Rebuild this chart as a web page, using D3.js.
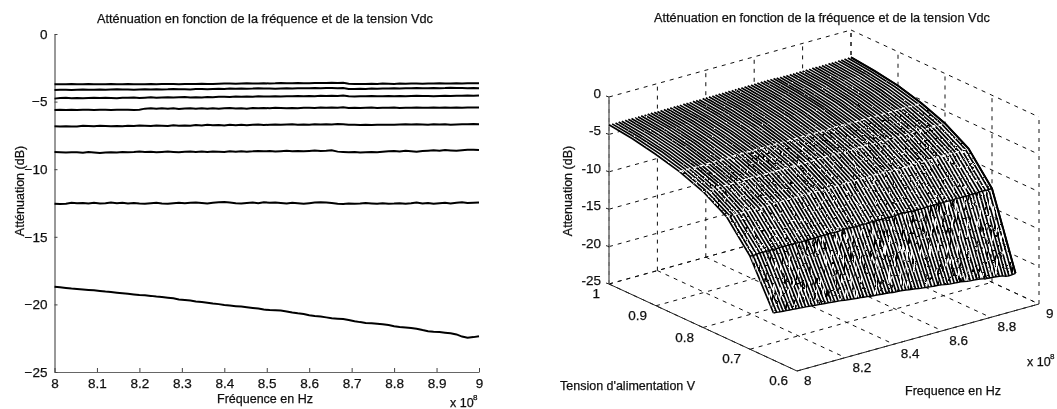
<!DOCTYPE html>
<html>
<head>
<meta charset="utf-8">
<script src="https://cdnjs.cloudflare.com/ajax/libs/d3/7.8.5/d3.min.js"></script>
<style>
body { margin: 0; background: #fff; }
svg { display: block; }
text { font-family: "Liberation Sans", Arial, sans-serif; font-size: 12.5px; fill: #111; stroke: #111; stroke-width: 0.25px; }
.title { font-size: 12.7px; }
.tick text { font-size: 13.5px; }
.tl { font-size: 13.5px; }
</style>
</head>
<body>
<div id="chart"></div>
<script>
// frequency samples, in units of 1e8 Hz
const freqs = [
  8.000,8.013,8.027,8.040,8.053,8.067,8.080,8.093,8.107,8.120,8.133,8.147,8.160,8.173,8.187,
  8.200,8.213,8.227,8.240,8.253,8.267,8.280,8.293,8.307,8.320,8.333,8.347,8.360,8.373,8.387,
  8.400,8.413,8.427,8.440,8.453,8.467,8.480,8.493,8.507,8.520,8.533,8.547,8.560,8.573,8.587,
  8.600,8.613,8.627,8.640,8.653,8.667,8.680,8.693,8.707,8.720,8.733,8.747,8.760,8.773,8.787,
  8.800,8.813,8.827,8.840,8.853,8.867,8.880,8.893,8.907,8.920,8.933,8.947,8.960,8.973,8.987,
  9.000];

// attenuation in dB for each supply voltage
const v100 = [
  -3.72,-3.71,-3.72,-3.70,-3.71,-3.72,-3.70,-3.71,-3.72,-3.71,-3.70,-3.72,-3.71,-3.70,-3.71,
  -3.72,-3.71,-3.70,-3.71,-3.70,-3.69,-3.70,-3.71,-3.70,-3.69,-3.70,-3.68,-3.69,-3.70,-3.68,
  -3.67,-3.66,-3.68,-3.66,-3.65,-3.67,-3.66,-3.64,-3.66,-3.65,-3.63,-3.65,-3.64,-3.63,-3.64,
  -3.65,-3.63,-3.62,-3.63,-3.61,-3.62,-3.61,-3.68,-3.70,-3.69,-3.70,-3.68,-3.69,-3.67,-3.68,
  -3.69,-3.67,-3.68,-3.66,-3.67,-3.68,-3.66,-3.67,-3.65,-3.67,-3.66,-3.65,-3.66,-3.65,-3.64,
  -3.65];
const v95 = [
  -4.14,-4.12,-4.13,-4.14,-4.12,-4.11,-4.13,-4.12,-4.10,-4.12,-4.11,-4.09,-4.11,-4.10,-4.12,
  -4.10,-4.09,-4.11,-4.08,-4.10,-4.09,-4.07,-4.09,-4.08,-4.10,-4.07,-4.06,-4.08,-4.06,-4.05,
  -4.07,-4.04,-4.05,-4.03,-4.05,-4.04,-4.02,-4.04,-4.03,-4.05,-4.03,-4.02,-4.04,-4.02,-4.01,
  -4.02,-4.00,-4.01,-3.99,-4.00,-4.01,-3.99,-4.06,-4.07,-4.05,-4.06,-4.04,-4.05,-4.03,-4.04,
  -4.02,-4.03,-4.01,-4.02,-4.00,-4.02,-4.01,-3.99,-4.01,-4.00,-3.98,-4.00,-3.99,-4.01,-4.00,
  -4.02];
const v90 = [
  -4.78,-4.74,-4.72,-4.75,-4.73,-4.76,-4.74,-4.72,-4.74,-4.71,-4.73,-4.75,-4.71,-4.72,-4.70,
  -4.73,-4.71,-4.68,-4.71,-4.69,-4.67,-4.70,-4.68,-4.66,-4.69,-4.67,-4.69,-4.66,-4.68,-4.65,
  -4.64,-4.66,-4.63,-4.65,-4.62,-4.64,-4.61,-4.63,-4.62,-4.60,-4.62,-4.60,-4.61,-4.59,-4.60,
  -4.58,-4.60,-4.57,-4.59,-4.56,-4.58,-4.55,-4.60,-4.62,-4.60,-4.61,-4.59,-4.61,-4.60,-4.58,
  -4.60,-4.59,-4.61,-4.59,-4.57,-4.59,-4.58,-4.60,-4.58,-4.57,-4.58,-4.56,-4.57,-4.55,-4.56,
  -4.54];
const v85 = [
  -5.62,-5.60,-5.63,-5.61,-5.62,-5.60,-5.61,-5.63,-5.61,-5.60,-5.62,-5.61,-5.60,-5.61,-5.62,
  -5.60,-5.52,-5.50,-5.53,-5.49,-5.52,-5.50,-5.54,-5.51,-5.49,-5.52,-5.50,-5.53,-5.50,-5.52,
  -5.50,-5.48,-5.51,-5.49,-5.52,-5.48,-5.50,-5.47,-5.49,-5.46,-5.48,-5.50,-5.47,-5.49,-5.46,
  -5.45,-5.47,-5.44,-5.46,-5.43,-5.45,-5.42,-5.47,-5.45,-5.48,-5.46,-5.44,-5.47,-5.45,-5.46,
  -5.44,-5.47,-5.45,-5.46,-5.44,-5.46,-5.45,-5.43,-5.46,-5.44,-5.45,-5.43,-5.45,-5.44,-5.43,
  -5.44];
const v80 = [
  -6.82,-6.84,-6.83,-6.85,-6.84,-6.78,-6.80,-6.82,-6.79,-6.81,-6.83,-6.80,-6.82,-6.78,-6.80,
  -6.77,-6.79,-6.81,-6.76,-6.78,-6.80,-6.75,-6.79,-6.76,-6.78,-6.74,-6.77,-6.72,-6.75,-6.73,
  -6.76,-6.72,-6.74,-6.71,-6.75,-6.72,-6.70,-6.73,-6.71,-6.69,-6.72,-6.70,-6.68,-6.71,-6.69,
  -6.72,-6.68,-6.70,-6.67,-6.69,-6.66,-6.68,-6.72,-6.72,-6.73,-6.72,-6.73,-6.72,-6.71,-6.72,
  -6.71,-6.69,-6.68,-6.70,-6.67,-6.69,-6.71,-6.68,-6.70,-6.68,-6.71,-6.69,-6.67,-6.68,-6.66,
  -6.67];
const v75 = [
  -8.72,-8.74,-8.76,-8.75,-8.74,-8.78,-8.73,-8.76,-8.80,-8.77,-8.74,-8.76,-8.72,-8.75,-8.73,
  -8.70,-8.73,-8.71,-8.74,-8.72,-8.70,-8.72,-8.74,-8.71,-8.69,-8.72,-8.70,-8.72,-8.69,-8.71,
  -8.72,-8.68,-8.70,-8.67,-8.70,-8.68,-8.65,-8.68,-8.66,-8.69,-8.67,-8.64,-8.67,-8.65,-8.68,
  -8.65,-8.62,-8.65,-8.63,-8.60,-8.70,-8.72,-8.75,-8.73,-8.76,-8.74,-8.72,-8.75,-8.71,-8.68,
  -8.65,-8.69,-8.64,-8.67,-8.70,-8.66,-8.63,-8.60,-8.63,-8.58,-8.61,-8.64,-8.60,-8.57,-8.56,
  -8.58];
const v70 = [
  -12.55,-12.58,-12.55,-12.48,-12.52,-12.50,-12.53,-12.49,-12.54,-12.51,-12.47,-12.52,-12.49,-12.53,-12.50,
  -12.54,-12.56,-12.52,-12.49,-12.53,-12.55,-12.51,-12.48,-12.52,-12.49,-12.46,-12.50,-12.53,-12.48,-12.45,
  -12.42,-12.46,-12.51,-12.54,-12.50,-12.47,-12.52,-12.44,-12.48,-12.46,-12.50,-12.54,-12.49,-12.52,-12.55,
  -12.51,-12.47,-12.44,-12.47,-12.50,-12.55,-12.57,-12.53,-12.56,-12.54,-12.50,-12.53,-12.56,-12.52,-12.55,
  -12.54,-12.51,-12.55,-12.52,-12.47,-12.53,-12.50,-12.55,-12.52,-12.49,-12.53,-12.48,-12.45,-12.50,-12.48,
  -12.47];
const v65 = [
  -18.70,-18.74,-18.79,-18.83,-18.86,-18.90,-18.93,-18.96,-19.01,-19.05,-19.08,-19.13,-19.17,-19.21,-19.26,
  -19.30,-19.33,-19.37,-19.42,-19.46,-19.50,-19.55,-19.63,-19.68,-19.72,-19.78,-19.83,-19.87,-19.93,-19.98,
  -20.05,-20.09,-20.13,-20.16,-20.21,-20.26,-20.31,-20.38,-20.42,-20.44,-20.46,-20.52,-20.60,-20.66,-20.71,
  -20.80,-20.86,-20.90,-20.96,-21.03,-21.06,-21.08,-21.15,-21.24,-21.31,-21.37,-21.40,-21.43,-21.47,-21.53,
  -21.62,-21.68,-21.71,-21.75,-21.80,-21.90,-21.98,-22.02,-22.05,-22.09,-22.14,-22.22,-22.38,-22.46,-22.42,
  -22.35];

const voltages = [1, 0.95, 0.9, 0.85, 0.8, 0.75, 0.7, 0.65];
const curves = [v100, v95, v90, v85, v80, v75, v70, v65];

const freqTicks2d = [8, 8.1, 8.2, 8.3, 8.4, 8.5, 8.6, 8.7, 8.8, 8.9, 9];
const dbTicks2d = [0, -5, -10, -15, -20, -25];
const freqTicks3d = [8, 8.2, 8.4, 8.6, 8.8, 9];
const voltTicks3d = [1, 0.9, 0.8, 0.7, 0.6];
const titleText = "Atténuation en fonction de la fréquence et de la tension Vdc";

const svg = d3.select("#chart").append("svg")
    .attr("width", 1057)
    .attr("height", 409);

const defs = svg.append("defs");
defs.append("filter").attr("id", "scan")
    .append("feGaussianBlur").attr("stdDeviation", 0.35);

// scanner grain: noise turned into hard spots of one colour
function grain(id, freq, seed, rgb, gain, offset) {
    const f = defs.append("filter").attr("id", id)
        .attr("x", 0).attr("y", 0).attr("width", 1).attr("height", 1);
    f.append("feTurbulence").attr("type", "fractalNoise")
        .attr("baseFrequency", freq).attr("numOctaves", 2).attr("seed", seed);
    f.append("feColorMatrix").attr("type", "matrix")
        .attr("values", `0 0 0 0 ${rgb}  0 0 0 0 ${rgb}  0 0 0 0 ${rgb}  ${gain} 0 0 0 ${offset}`);
}
grain("specks", "0.5", 4, 1, 14, -10);
grain("specksDense", "0.45", 9, 1, 14, -9.1);
grain("darkSpecks", "0.4", 15, 0, 14, -9.2);
grain("streaks", "0.45 0.07", 21, 1, 14, -8.9);
grain("darkStreaks", "0.5 0.08", 27, 0, 14, -9.1);

// wobble the mesh lines a little, as the scan does
const wobble = defs.append("filter").attr("id", "wobble")
    .attr("x", "-2%").attr("y", "-2%").attr("width", "104%").attr("height", "104%");
wobble.append("feTurbulence").attr("type", "fractalNoise")
    .attr("baseFrequency", "0.06 0.1").attr("numOctaves", 1).attr("seed", 3).attr("result", "n");
wobble.append("feDisplacementMap").attr("in", "SourceGraphic").attr("in2", "n")
    .attr("scale", 1.6).attr("xChannelSelector", "R").attr("yChannelSelector", "G");

const root = svg.append("g").attr("filter", "url(#scan)");

// 1: LEFT PLOT
const x2d = d3.scaleLinear().domain([8, 9]).range([54.5, 479]);
const y2d = d3.scaleLinear().domain([-25, 0]).range([372, 34]);

const left = root.append("g");

const axisX = left.append("g")
    .attr("transform", "translate(0,372)")
    .call(d3.axisBottom(x2d).tickValues(freqTicks2d).tickSizeInner(-4).tickSizeOuter(0).tickPadding(6).tickFormat(d3.format("")));
const axisY = left.append("g")
    .attr("transform", "translate(54.5,0)")
    .call(d3.axisLeft(y2d).tickValues(dbTicks2d).tickSizeInner(-3).tickSizeOuter(0).tickPadding(7).tickFormat(d3.format("")));
axisX.select(".domain").attr("stroke", "#666");
axisY.select(".domain").attr("stroke", "#333");
axisX.selectAll(".tick line").attr("stroke", "#444");
axisY.selectAll(".tick line").attr("stroke", "#444");

const line2d = d3.line().x((d, i) => x2d(freqs[i])).y(d => y2d(d));
left.selectAll(".curve")
    .data(curves)
    .enter()
    .append("path")
    .attr("class", "curve")
    .attr("d", line2d)
    .attr("fill", "none")
    .attr("stroke", "#000")
    .attr("stroke-width", 2);

left.append("text").attr("class", "title").attr("text-anchor", "middle")
    .attr("x", 265).attr("y", 23).text(titleText);
left.append("text").attr("text-anchor", "middle")
    .attr("x", 265).attr("y", 403).text("Fréquence en Hz");
left.append("text").attr("text-anchor", "middle")
    .attr("transform", "translate(24,191) rotate(-90)").text("Atténuation (dB)");
left.append("text").attr("x", 450).attr("y", 407).text("x 10");
left.append("text").attr("x", 473).attr("y", 400).style("font-size", "8px").text("8");

// 2: RIGHT PLOT, an orthographic view of the box
const fPos = d3.scaleLinear().domain([8, 9]).range([0, 1]);
const vPos = d3.scaleLinear().domain([1, 0.6]).range([0, 1]);
const zPix = d3.scaleLinear().domain([-25, 0]).range([0, 187]);
const project = (f, v, z) => [
    609 + 242 * fPos(f) + 188 * vPos(v),
    284 - 67 * fPos(f) + 87 * vPos(v) - zPix(z)
];

const right = root.append("g");
const seg = d3.line();
const dashed = (a, b) => right.append("path")
    .attr("d", seg([a, b]))
    .attr("fill", "none")
    .attr("stroke", "#111")
    .attr("stroke-width", 1)
    .attr("stroke-dasharray", "4 5");

// grid on the two back walls and the floor
dbTicks2d.forEach(z => {
    dashed(project(8, 1, z), project(9, 1, z));
    dashed(project(9, 1, z), project(9, 0.6, z));
});
freqTicks3d.forEach(f => {
    dashed(project(f, 1, -25), project(f, 1, 0));
    dashed(project(f, 1, -25), project(f, 0.6, -25));
});
voltTicks3d.forEach(v => {
    dashed(project(9, v, -25), project(9, v, 0));
    dashed(project(8, v, -25), project(9, v, -25));
});

// box axes
const solid = (a, b, color, w) => right.append("path")
    .attr("d", seg([a, b]))
    .attr("fill", "none")
    .attr("stroke", color)
    .attr("stroke-width", w);
solid(project(8, 1, -25), project(8, 1, 0), "#777", 1.6);
solid(project(8, 1, -25), project(8, 0.6, -25), "#222", 1);
solid(project(8, 0.6, -25), project(9, 0.6, -25), "#222", 1);

dbTicks2d.forEach(z => {
    const [px, py] = project(8, 1, z);
    solid([px - 3, py - 1], [px, py], "#222", 1);
    right.append("text").attr("class", "tl").attr("text-anchor", "end")
        .attr("x", px - 8).attr("y", py + 1).text(z);
});
voltTicks3d.forEach(v => {
    const [px, py] = project(8, v, -25);
    right.append("text").attr("class", "tl").attr("text-anchor", "end")
        .attr("x", px - 9).attr("y", py + 14).text(v);
});
freqTicks3d.forEach(f => {
    const [px, py] = project(f, 0.6, -25);
    right.append("text").attr("class", "tl")
        .attr("x", px + 7).attr("y", py + 14).text(f);
});

// mesh: white faces, then one line per frequency sample
const rowPoints = k => curves[k].map((z, i) => project(freqs[i], voltages[k], z));
const colPoints = (i, from, to) => curves.slice(from, to + 1)
    .map((c, k) => project(freqs[i], voltages[k + from], c[i]));
const band = (from, to) => rowPoints(from)
    .concat(colPoints(freqs.length - 1, from, to))
    .concat(rowPoints(to).reverse())
    .concat(colPoints(0, from, to).reverse());

const mesh = right.append("g");
mesh.append("path").attr("d", d3.line()(band(0, 7)) + "Z").attr("fill", "#fff");

const lines = mesh.append("g").attr("filter", "url(#wobble)");
freqs.forEach((f, i) => {
    lines.append("path")
        .attr("d", d3.line()(colPoints(i, 0, 7)))
        .attr("fill", "none")
        .attr("stroke", "#000")
        .attr("stroke-width", 1.7);
});

// rows show up as broken white lines near the knee, black near the front
[3, 4, 5].forEach(k => {
    mesh.append("path")
        .attr("d", d3.line()(rowPoints(k)))
        .attr("fill", "none")
        .attr("stroke", "#fff")
        .attr("stroke-width", 1.3)
        .attr("stroke-dasharray", "4 3");
});

// grain, heavier toward the front of the surface
const addGrain = (id, from, to, name) => {
    defs.append("clipPath").attr("id", name)
        .append("path").attr("d", d3.line()(band(from, to)) + "Z");
    mesh.append("g").attr("clip-path", `url(#${name})`)
        .append("rect")
        .attr("x", 600).attr("y", 40).attr("width", 440).attr("height", 330)
        .attr("filter", `url(#${id})`);
};
addGrain("specks", 0, 3, "bandTop");
addGrain("specksDense", 3, 6, "bandMid");
addGrain("darkSpecks", 3, 7, "bandMidDark");
addGrain("specks", 6, 7, "bandLow");
addGrain("streaks", 6, 7, "bandLowStreak");
addGrain("darkStreaks", 6, 7, "bandLowDark");

[6, 7].forEach(k => {
    mesh.append("path")
        .attr("d", d3.line()(rowPoints(k)))
        .attr("fill", "none")
        .attr("stroke", "#000")
        .attr("stroke-width", 1.4);
});
mesh.append("path")
    .attr("d", d3.line()(colPoints(freqs.length - 1, 0, 7)))
    .attr("fill", "none").attr("stroke", "#000").attr("stroke-width", 2);

right.append("text").attr("class", "title").attr("text-anchor", "middle")
    .attr("x", 822).attr("y", 22).text(titleText);
right.append("text").attr("x", 560).attr("y", 390).text("Tension d'alimentation V");
right.append("text").attr("text-anchor", "middle").attr("x", 953).attr("y", 395).text("Frequence en Hz");
right.append("text").attr("text-anchor", "middle")
    .attr("transform", "translate(572,191) rotate(-90)").text("Attenuation (dB)");
right.append("text").attr("x", 1027).attr("y", 366).text("x 10");
right.append("text").attr("x", 1050).attr("y", 359).style("font-size", "8px").text("8");
</script>
</body>
</html>
